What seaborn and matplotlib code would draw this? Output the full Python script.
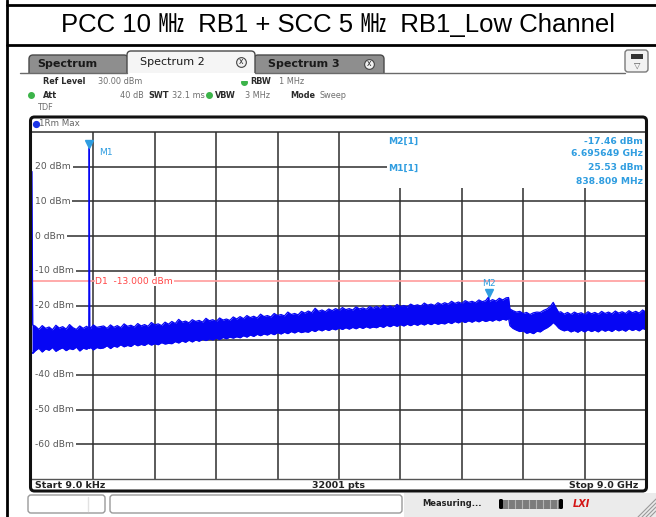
import matplotlib
matplotlib.use("Agg")
import matplotlib.pyplot as plt
import matplotlib.transforms as mtransforms
from matplotlib.patches import Rectangle, FancyBboxPatch
import pandas as pd
import seaborn as sns

# ---------------- sweep settings ----------------
title_text = "PCC 10 \u3392  RB1 + SCC 5 \u3392  RB1_Low Channel"
ref_level_dbm = 30.0
att_db = 40
swt_ms = 32.1
rbw_mhz = 1
vbw_mhz = 3
start_khz = 9.0
stop_ghz = 9.0
sweep_points = 32001

# ---------------- markers / display line ----------------
m1_freq_ghz = 0.838809
m1_level_dbm = 25.53
m2_freq_ghz = 6.695649
m2_level_dbm = -17.46
d1_level_dbm = -13.0

# ---------------- max-hold trace envelope (GHz / dBm) ----------------
freq_ghz = [
    0.000009, 0.01,
    0.05, 0.10, 0.15, 0.20, 0.25, 0.30, 0.35, 0.40, 0.45, 0.50,
    0.55, 0.60, 0.65, 0.70, 0.75, 0.80, 0.832, m1_freq_ghz, 0.846, 0.85, 0.90, 0.95, 1.00,
    1.05, 1.10, 1.15, 1.20, 1.25, 1.30, 1.35, 1.40, 1.45, 1.50,
    1.55, 1.60, 1.65, 1.70, 1.75, 1.80, 1.85, 1.90, 1.95, 2.00,
    2.05, 2.10, 2.15, 2.20, 2.25, 2.30, 2.35, 2.40, 2.45, 2.50,
    2.55, 2.60, 2.65, 2.70, 2.75, 2.80, 2.85, 2.90, 2.95, 3.00,
    3.05, 3.10, 3.15, 3.20, 3.25, 3.30, 3.35, 3.40, 3.45, 3.50,
    3.55, 3.60, 3.65, 3.70, 3.75, 3.80, 3.85, 3.90, 3.95, 4.00,
    4.05, 4.10, 4.15, 4.20, 4.25, 4.30, 4.35, 4.40, 4.45, 4.50,
    4.55, 4.60, 4.65, 4.70, 4.75, 4.80, 4.85, 4.90, 4.95, 5.00,
    5.05, 5.10, 5.15, 5.20, 5.25, 5.30, 5.35, 5.40, 5.45, 5.50,
    5.55, 5.60, 5.65, 5.70, 5.75, 5.80, 5.85, 5.90, 5.95, 6.00,
    6.05, 6.10, 6.15, 6.20, 6.25, 6.30, 6.35, 6.40, 6.45, 6.50,
    6.55, 6.60, 6.65, m2_freq_ghz, 6.70, 6.75, 6.80, 6.85, 6.90, 6.95, 6.985,
    7.005, 7.05, 7.10, 7.15, 7.20, 7.25, 7.30, 7.35, 7.40, 7.45, 7.50,
    7.55, 7.60, 7.64, 7.68, 7.72, 7.75, 7.80, 7.85, 7.90, 7.95, 8.00,
    8.05, 8.10, 8.15, 8.20, 8.25, 8.30, 8.35, 8.40, 8.45, 8.50,
    8.55, 8.60, 8.65, 8.70, 8.75, 8.80, 8.85, 8.90, 8.95, 9.00,
]
trace_peak_dbm = [
    18.6, -25.6,
    -26.0, -26.9, -25.8, -26.6, -26.2, -27.0, -25.7, -26.5, -26.1, -26.8,
    -25.5, -26.4, -26.9, -25.9, -26.6, -26.0, -26.5, m1_level_dbm, -26.4, -26.7, -25.6, -26.3, -26.1,
    -25.9, -26.6, -25.6, -26.3, -25.8, -26.4, -25.3, -26.0, -25.7, -26.2,
    -25.2, -25.9, -25.5, -26.0, -24.9, -25.6, -25.3, -25.8, -24.8, -25.4,
    -24.6, -25.2, -24.0, -24.8, -24.5, -25.0, -24.1, -24.6, -24.3, -24.8,
    -23.7, -24.4, -24.1, -24.6, -23.6, -24.2, -23.9, -24.3, -23.3, -23.9,
    -23.2, -23.8, -22.9, -23.5, -23.1, -23.6, -22.5, -23.2, -22.9, -23.3,
    -22.3, -22.9, -22.6, -23.0, -21.9, -22.6, -22.3, -22.7, -21.7, -22.2,
    -21.6, -22.1, -20.8, -21.7, -21.3, -21.8, -21.0, -21.5, -20.9, -21.4,
    -20.6, -21.2, -20.9, -21.3, -20.4, -21.0, -20.7, -21.1, -20.3, -20.8,
    -20.3, -20.8, -19.9, -20.5, -20.1, -20.6, -19.7, -20.3, -20.0, -20.4,
    -19.6, -20.1, -19.8, -20.2, -19.3, -19.9, -19.6, -20.0, -19.2, -19.7,
    -19.2, -19.6, -18.8, -19.4, -19.0, -19.4, -18.6, -19.1, -18.8, -19.2,
    -18.4, -18.9, -18.6, m2_level_dbm, -18.9, -18.3, -18.7, -17.9, -18.4, -17.8, -17.7,
    -21.0, -21.5, -21.9, -21.7, -22.3, -22.0, -22.6, -22.1, -21.9, -22.0, -21.4,
    -21.0, -20.2, -19.1, -20.6, -22.0, -21.8, -22.5, -22.0, -22.6, -21.9, -22.4,
    -22.1, -22.6, -21.8, -22.4, -22.0, -22.5, -21.7, -22.3, -21.9, -22.4,
    -21.6, -22.2, -21.8, -22.3, -21.5, -22.1, -21.7, -22.2, -21.3, -21.9,
]
trace_floor_dbm = [
    -33.5, -33.8,
    -33.0, -32.3, -33.4, -32.5, -32.9, -32.1, -33.2, -32.6, -32.2, -33.0,
    -32.4, -32.7, -32.0, -33.1, -32.3, -32.6, -32.2, -32.0, -32.4, -31.9, -32.8, -32.1, -32.4,
    -32.2, -31.6, -32.4, -31.7, -32.0, -31.3, -31.9, -31.5, -31.8, -31.1,
    -31.6, -31.2, -31.5, -30.9, -31.4, -31.0, -31.3, -30.7, -31.1, -30.9,
    -31.0, -30.4, -30.8, -30.2, -30.6, -30.0, -30.5, -29.9, -30.3, -29.7,
    -30.1, -29.6, -29.9, -29.4, -29.8, -29.2, -29.6, -29.1, -29.4, -29.0,
    -29.3, -28.7, -29.1, -28.5, -28.9, -28.3, -28.7, -28.2, -28.5, -28.0,
    -28.4, -27.8, -28.2, -27.7, -28.1, -27.5, -27.9, -27.4, -27.8, -27.5,
    -27.7, -27.1, -27.5, -26.9, -27.3, -26.8, -27.2, -26.7, -27.0, -26.5,
    -26.9, -26.4, -26.8, -26.3, -26.7, -26.2, -26.6, -26.1, -26.5, -26.2,
    -26.4, -25.9, -26.3, -25.7, -26.1, -25.6, -26.0, -25.5, -25.9, -25.4,
    -25.8, -25.3, -25.7, -25.2, -25.6, -25.1, -25.5, -25.0, -25.4, -25.1,
    -25.3, -24.8, -25.2, -24.6, -25.0, -24.5, -24.9, -24.4, -24.8, -24.3,
    -24.7, -24.2, -24.6, -24.3, -24.1, -24.5, -24.0, -24.4, -23.9, -24.2, -23.7,
    -25.8, -26.6, -27.1, -27.5, -27.3, -28.0, -27.7, -28.1, -27.4, -27.6, -26.9,
    -26.4, -25.7, -24.9, -25.6, -26.5, -26.9, -27.3, -27.0, -27.6, -27.2, -27.7,
    -27.1, -27.6, -27.0, -27.5, -27.1, -27.6, -26.9, -27.4, -27.0, -27.5,
    -26.8, -27.3, -26.9, -27.4, -26.7, -27.2, -26.8, -27.3, -26.6, -27.0,
]

level_ticks_dbm = [20, 10, 0, -10, -20, -30, -40, -50, -60]
freq_grid_ghz = [0.9, 1.8, 2.7, 3.6, 4.5, 5.4, 6.3, 7.2, 8.1]

trace = pd.DataFrame({"freq": freq_ghz, "peak": trace_peak_dbm, "floor": trace_floor_dbm})

# ---------------- styling ----------------
sns.set_style("white")
plt.rcParams["font.family"] = ["DejaVu Sans"]

TRACE_BLUE = "#0606f4"
MARKER_BLUE = "#2f9de0"
GRID = "#2e2e2e"
W, H = 656, 517

fig = plt.figure(figsize=(W / 100, H / 100), dpi=100)
fig.patch.set_facecolor("white")


def px_rect(x0, y0, x1, y1):
    return [x0 / W, 1 - y1 / H, (x1 - x0) / W, (y1 - y0) / H]


# ---------------- diagram area ----------------
ax = fig.add_axes(px_rect(32, 132, 646, 479), zorder=1)
ax.set_xlim(0, stop_ghz)
ax.set_ylim(ref_level_dbm - 100, ref_level_dbm)

for f in freq_grid_ghz:
    ax.axvline(f, color=GRID, lw=1.1, zorder=0.5)
for lv in level_ticks_dbm:
    ax.axhline(lv, color=GRID, lw=1.1, zorder=0.5)

# marker result table covers the top-right grid cells
ax.add_patch(Rectangle(((387 - 32) / 614, (479 - 188) / 347), 1, 1,
                       transform=ax.transAxes, facecolor="white",
                       edgecolor="none", zorder=0.9))
# narrow margin between the frame and the level labels
ax.add_patch(Rectangle((0, 0), 4 / 614, 1, transform=ax.transAxes, facecolor="white",
                       edgecolor="none", zorder=0.95))

# level labels sit inside the diagram, masking the start of each grid line
ylab_tr = mtransforms.blended_transform_factory(ax.transAxes, ax.transData)
for lv in level_ticks_dbm:
    ax.text(3 / 614, lv, f"{lv} dBm", transform=ylab_tr, ha="left", va="center",
            fontsize=6.6, color="#555555", zorder=1.2,
            bbox=dict(facecolor="white", edgecolor="none", pad=1.3))

# display line D1
ax.axhline(d1_level_dbm, color="#ff9c9c", lw=1.2, zorder=1.4)
ax.text(0.93, d1_level_dbm, f"D1  {d1_level_dbm:.3f} dBm", ha="left", va="center",
        fontsize=6.6, color="#ff4646", zorder=1.5,
        bbox=dict(facecolor="white", edgecolor="none", pad=0.4))

# trace
ax.fill_between(trace["freq"], trace["floor"], trace["peak"], color=TRACE_BLUE,
                lw=0, zorder=2)
sns.lineplot(data=trace, x="freq", y="peak", ax=ax, color=TRACE_BLUE, lw=0.9,
             estimator=None, sort=False, zorder=2.1)
sns.lineplot(data=trace, x="freq", y="floor", ax=ax, color=TRACE_BLUE, lw=0.9,
             estimator=None, sort=False, zorder=2.1)
ax.axis("off")

# markers
for name, mf, ml, lab_dx, lab_dy, ha in [("M1", m1_freq_ghz, m1_level_dbm, 10, -4.5, "left"),
                                          ("M2", m2_freq_ghz, m2_level_dbm, 0, 13.5, "center")]:
    tri_tr = mtransforms.offset_copy(ax.transData, fig=fig, x=0, y=3.6, units="dots")
    ax.plot([mf], [ml], marker="v", ms=5.5, color=MARKER_BLUE, mec=MARKER_BLUE,
            transform=tri_tr, zorder=3, clip_on=False)
    lab_tr = mtransforms.offset_copy(ax.transData, fig=fig, x=lab_dx, y=lab_dy, units="dots")
    ax.text(mf, ml, name, transform=lab_tr, ha=ha, va="center", fontsize=6.6,
            color=MARKER_BLUE, zorder=3)

# marker result table
tab_rows = [("M2[1]", f"{m2_level_dbm:.2f} dBm", f"{m2_freq_ghz:.6f} GHz"),
            ("M1[1]", f"{m1_level_dbm:.2f} dBm", f"{m1_freq_ghz * 1000:.3f} MHz")]

# ---------------- overlay in pixel coordinates ----------------
ov = fig.add_axes([0, 0, 1, 1], zorder=5)
ov.set_xlim(0, W)
ov.set_ylim(H, 0)
ov.axis("off")
ov.patch.set_alpha(0)

for i, (mname, lvl, frq) in enumerate(tab_rows):
    y0 = 141 + i * 27
    ov.text(388, y0, mname, ha="left", va="center", fontsize=6.6, color=MARKER_BLUE,
            fontweight="bold")
    ov.text(643, y0, lvl, ha="right", va="center", fontsize=6.6, color=MARKER_BLUE,
            fontweight="bold")
    ov.text(643, y0 + 13, frq, ha="right", va="center", fontsize=6.6, color=MARKER_BLUE,
            fontweight="bold")

# document table lines and title
ov.plot([7, W], [5, 5], color="black", lw=2)
ov.plot([7, W], [45, 45], color="black", lw=2)
ov.plot([7, 7], [0, H], color="black", lw=2)
ov.text(338, 25, title_text, ha="center", va="center", fontsize=18.5, color="black",
        family=["Liberation Sans", "Noto Sans CJK KR"])


# tabs
def tab(x0, x1, y0, face, zo):
    ov.add_patch(FancyBboxPatch((x0, y0), x1 - x0, 80 - y0,
                                boxstyle="round,pad=0,rounding_size=4",
                                facecolor=face, edgecolor="#4a4a4a", lw=1, zorder=zo))


tab(29, 128, 55, "#8e8e8e", 1)
tab(254, 384, 55, "#8e8e8e", 1)
tab(127, 255, 51, "#f5f5f5", 2)
ov.add_patch(Rectangle((20, 72.5), 610, 8, facecolor="white", edgecolor="none", zorder=3))
ov.plot([20, 127], [72.5, 72.5], color="#6a6a6a", lw=1, zorder=4)
ov.plot([255, 625], [72.5, 72.5], color="#6a6a6a", lw=1, zorder=4)
ov.text(37, 64, "Spectrum", fontsize=8, fontweight="bold", color="#1a1a1a",
        va="center", ha="left", zorder=5)
ov.text(140, 62, "Spectrum 2", fontsize=8, color="#1a1a1a", va="center", ha="left", zorder=5)
ov.text(268, 64, "Spectrum 3", fontsize=8, fontweight="bold", color="#1a1a1a",
        va="center", ha="left", zorder=5)
for cx, cy in [(241, 62), (369, 64)]:
    ov.plot([cx], [cy], marker="o", ms=7, mfc="#f0f0f0", mec="#444", mew=0.8, zorder=5)
    ov.text(cx, cy, "x", fontsize=5.5, ha="center", va="center", color="#222", zorder=6)

# display-config icon
ov.add_patch(FancyBboxPatch((625, 50), 23, 22, boxstyle="round,pad=0,rounding_size=3",
                            facecolor="#f2f2f2", edgecolor="#7a7a7a", lw=1, zorder=2))
ov.add_patch(Rectangle((631, 54), 12, 4.5, facecolor="#333333", edgecolor="none", zorder=3))
ov.text(637, 65, "\u25bd", fontsize=6, ha="center", va="center", color="#555", zorder=3)


# setting summary
def lab(x, y, s, bold=False, color="#2a2a2a"):
    ov.text(x, y, s, fontsize=5.9, fontweight="bold" if bold else "normal",
            color=color, ha="left", va="center")


GREY = "#6e6e6e"
GREEN = "#3cb44a"
lab(43, 82, "Ref Level", True)
lab(98, 82, f"{ref_level_dbm:.2f} dBm", color=GREY)
ov.plot([244], [82], marker="o", ms=4, color=GREEN)
lab(250, 82, "RBW", True)
lab(279, 82, f"{rbw_mhz} MHz", color=GREY)
ov.plot([31], [95], marker="o", ms=4, color=GREEN)
lab(43, 95, "Att", True)
lab(120, 95, f"{att_db} dB", color=GREY)
lab(148, 95, "SWT", True)
lab(172, 95, f"{swt_ms} ms", color=GREY)
ov.plot([209], [95], marker="o", ms=4, color=GREEN)
lab(215, 95, "VBW", True)
lab(245, 95, f"{vbw_mhz} MHz", color=GREY)
lab(290, 95, "Mode", True)
lab(320, 95, "Sweep", color=GREY)
lab(38, 108, "TDF", color=GREY)

# diagram frame, header and footer
ov.add_patch(FancyBboxPatch((30.5, 117), 616, 374, boxstyle="round,pad=0,rounding_size=4",
                            fill=False, edgecolor="#111111", lw=2.2, zorder=6))
ov.plot([31, 646], [131.8, 131.8], color=GRID, lw=1.1)
ov.plot([31, 646], [479, 479], color="#555555", lw=1.0)
ov.plot([35.5], [124], marker="o", ms=4.2, color="#1a35e8")
ov.text(39, 124, "1Rm Max", fontsize=6.3, color="#666666", va="center", ha="left")
ov.text(35, 485, f"Start {start_khz:.1f} kHz", fontsize=6.8, fontweight="bold",
        color="#222222", va="center", ha="left")
ov.text(339, 485, f"{sweep_points} pts", fontsize=6.8, fontweight="bold",
        color="#222222", va="center", ha="center")
ov.text(638, 485, f"Stop {stop_ghz:.1f} GHz", fontsize=6.8, fontweight="bold",
        color="#222222", va="center", ha="right")

# status bar
ov.add_patch(Rectangle((404, 493), W - 404, H - 493, facecolor="#ebebeb", edgecolor="none"))
ov.add_patch(FancyBboxPatch((28, 495), 77, 18, boxstyle="round,pad=0,rounding_size=3",
                            facecolor="white", edgecolor="#9a9a9a", lw=1))
ov.plot([88, 88], [497, 511], color="#e2e2e2", lw=1)
ov.add_patch(FancyBboxPatch((110, 495), 292, 18, boxstyle="round,pad=0,rounding_size=3",
                            facecolor="white", edgecolor="#9a9a9a", lw=1))
ov.text(422, 504, "Measuring...", fontsize=6, fontweight="bold", color="#222",
        va="center", ha="left")
ov.add_patch(Rectangle((502, 499.5), 58, 9, facecolor="#7c7c7c", edgecolor="none"))
for xs in range(508, 560, 7):
    ov.plot([xs, xs], [500, 508], color="#b5b5b5", lw=0.8)
ov.add_patch(FancyBboxPatch((499, 499), 4, 10, boxstyle="round,pad=0,rounding_size=1.5",
                            facecolor="black", edgecolor="none"))
ov.add_patch(FancyBboxPatch((559, 499), 4, 10, boxstyle="round,pad=0,rounding_size=1.5",
                            facecolor="black", edgecolor="none"))
ov.text(581, 504, "LXI", fontsize=7, fontweight="bold", style="italic", color="#d41515",
        va="center", ha="center")
for k in range(4):
    ov.plot([638 + 4 * k, W], [H, 499 + 4 * k], color="#9a9a9a", lw=0.8)

fig.savefig("out.png", dpi=100)
